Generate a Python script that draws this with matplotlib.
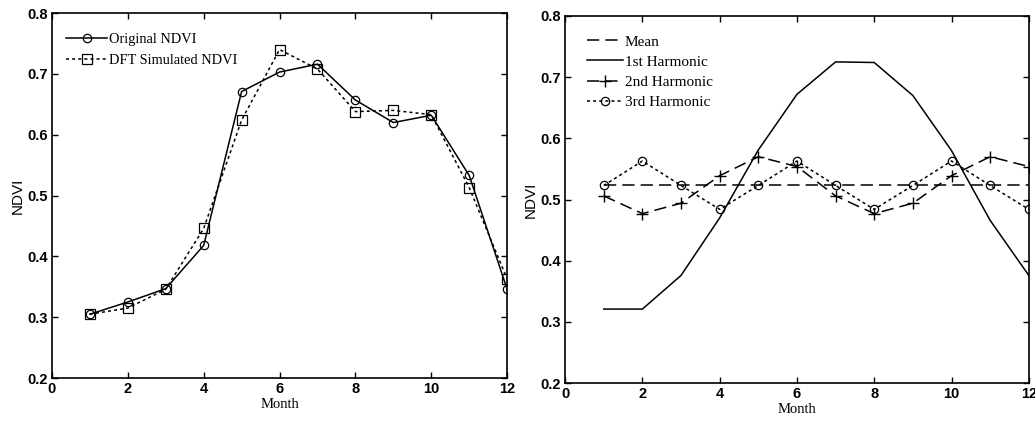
import numpy as np
import matplotlib
matplotlib.use('Agg')
import matplotlib.pyplot as plt

# Data
months = list(range(1, 13))
original_ndvi = [0.305, 0.325, 0.347, 0.418, 0.671, 0.703, 0.716, 0.657, 0.620, 0.632, 0.533, 0.346]
dft_ndvi = [0.305, 0.315, 0.346, 0.446, 0.624, 0.740, 0.708, 0.638, 0.640, 0.633, 0.513, 0.363]

mean_ndvi = [0.523] * 12
harmonic1 = [0.321, 0.321, 0.376, 0.470, 0.581, 0.672, 0.725, 0.724, 0.670, 0.580, 0.466, 0.376]
harmonic2 = [0.506, 0.477, 0.494, 0.539, 0.570, 0.554, 0.506, 0.477, 0.494, 0.539, 0.570, 0.554]
harmonic3 = [0.523, 0.563, 0.523, 0.484, 0.523, 0.563, 0.523, 0.484, 0.523, 0.563, 0.523, 0.484]

x_ticks = [0, 2, 4, 6, 8, 10, 12]
y_ticks = [0.2, 0.3, 0.4, 0.5, 0.6, 0.7, 0.8]

serif = 'Liberation Serif'
sans = 'Liberation Sans'

fig = plt.figure(figsize=(10.35, 4.21), dpi=100)
ax1 = fig.add_axes([0.0502, 0.102, 0.4398, 0.867])
ax2 = fig.add_axes([0.546, 0.090, 0.448, 0.872])


def style_axes(ax):
    ax.set_xlim(0, 12)
    ax.set_ylim(0.2, 0.8)
    ax.set_xticks(x_ticks)
    ax.set_yticks(y_ticks)
    ax.set_yticklabels(['%.1f' % v for v in y_ticks])
    ax.tick_params(direction='in', top=True, right=True, length=4, width=1,
                   labelsize=10.5, pad=3)
    for lab in ax.get_xticklabels() + ax.get_yticklabels():
        lab.set_fontfamily(sans)
        lab.set_fontweight('bold')
    for sp in ax.spines.values():
        sp.set_linewidth(1.2)
    ax.set_xlabel('Month', fontfamily=serif, fontsize=10.5, labelpad=1)
    ax.set_ylabel('NDVI', fontfamily=sans, fontsize=11, labelpad=2)


# Left: original vs simulated NDVI
ax1.plot(months, original_ndvi, color='black', linestyle='-', linewidth=1.1,
         marker='o', markersize=6, markerfacecolor='none', markeredgewidth=0.9,
         label='Original NDVI')
ax1.plot(months, dft_ndvi, color='black', linestyle=(0, (2, 2)), linewidth=1.1,
         marker='s', markersize=7, markerfacecolor='none', markeredgewidth=0.9,
         label='DFT Simulated NDVI')
style_axes(ax1)
ax1.legend(loc='upper left', bbox_to_anchor=(0.0, 0.985), frameon=False,
           handlelength=2.8, handletextpad=0.15,
           prop={'family': serif, 'size': 10.4}, borderaxespad=0.6,
           labelspacing=0.55)

# Right: mean and harmonics
ax2.plot(months, mean_ndvi, color='black', linestyle=(0, (8, 4)), linewidth=1.1,
         label='Mean')
ax2.plot(months, harmonic1, color='black', linestyle='-', linewidth=1.1,
         label='1st Harmonic')
ax2.plot(months, harmonic2, color='black', linestyle=(0, (8, 4)), linewidth=1.1,
         marker='+', markersize=8, markeredgewidth=1.0, label='2nd Harmonic')
ax2.plot(months, harmonic3, color='black', linestyle=(0, (2, 2)), linewidth=1.1,
         marker='o', markersize=6, markerfacecolor='none', markeredgewidth=0.9,
         label='3rd Harmonic')
style_axes(ax2)
ax2.legend(loc='upper left', bbox_to_anchor=(0.015, 0.99), frameon=False,
           handlelength=2.35, handletextpad=0.1,
           prop={'family': serif, 'size': 11}, borderaxespad=0.6,
           labelspacing=0.42)

plt.savefig('out.png', dpi=100)
